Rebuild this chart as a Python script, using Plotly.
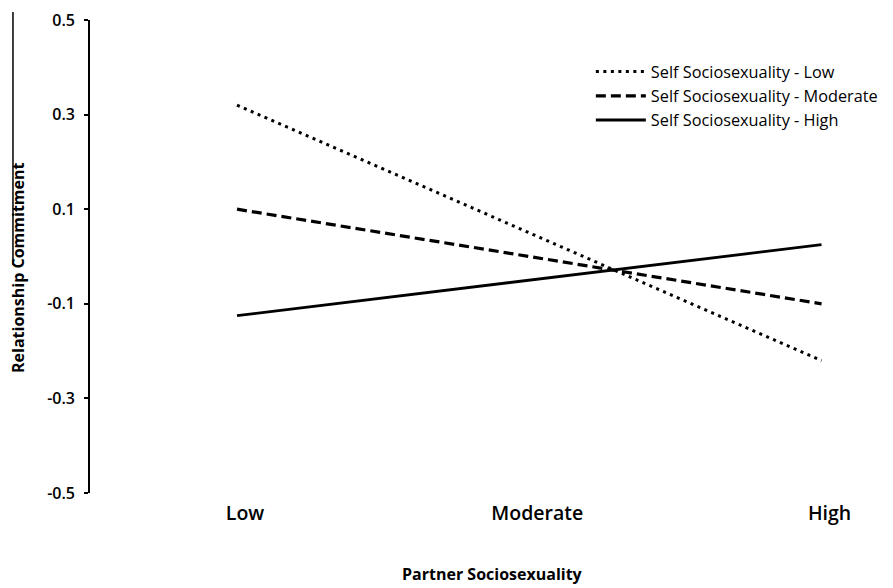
import plotly.graph_objects as go

categories = ["Low", "Moderate", "High"]
x_points = ["Low", "High"]
series_names = ["Self Sociosexuality - Low", "Self Sociosexuality - Moderate", "Self Sociosexuality - High"]
low_values = [0.32, -0.22]
moderate_values = [0.10, -0.10]
high_values = [-0.125, 0.025]
y_ticks = [0.5, 0.3, 0.1, -0.1, -0.3, -0.5]
y_ticklabels = ["0.5", "0.3", "0.1", "-0.1", "-0.3", "-0.5"]

FONT = "Open Sans"

fig = go.Figure()
styles = [
    dict(dash="3px,4.5px", width=3),
    dict(dash="10px,5px", width=3.2),
    dict(dash="solid", width=2.8),
]
for name, vals, st in zip(series_names, [low_values, moderate_values, high_values], styles):
    fig.add_trace(go.Scatter(
        x=x_points, y=vals, mode="lines", name=name,
        line=dict(color="black", width=st["width"], dash=st["dash"]),
    ))

# page body has an 8px default margin, so the figure is 8px smaller
fig.update_layout(
    width=885, height=580,
    margin=dict(l=82, r=13, t=12, b=95, autoexpand=False),
    paper_bgcolor="white", plot_bgcolor="white",
    showlegend=True,
    legend=dict(
        x=0.634, y=0.927, xanchor="left", yanchor="top",
        font=dict(family=FONT, size=16.3, color="black"),
        itemwidth=50, tracegroupgap=0, bgcolor="rgba(0,0,0,0)",
    ),
    font=dict(family=FONT, color="black"),
)
fig.update_xaxes(
    type="category", categoryorder="array", categoryarray=categories,
    range=[-0.503, 2.2], automargin=False,
    showline=False, showgrid=False, zeroline=False, ticks="",
    tickfont=dict(family=FONT, size=19.5, color="black", weight=600),
    ticklabelstandoff=6, ticklabelshift=8,
)
fig.update_yaxes(
    range=[-0.5, 0.5], tickvals=y_ticks, ticktext=y_ticklabels, automargin=False,
    showline=True, linecolor="black", linewidth=1.6,
    ticks="outside", ticklen=4, tickwidth=1.6, tickcolor="black",
    showgrid=False, zeroline=False,
    tickfont=dict(family=FONT, size=16, color="black", weight=600),
    ticklabelstandoff=6,
)
fig.add_annotation(
    text="Relationship Commitment", textangle=-90, showarrow=False,
    xref="paper", yref="paper", x=-0.091, y=0.476, xanchor="center", yanchor="middle",
    font=dict(family=FONT, size=16, color="black", weight="bold"),
)
fig.add_annotation(
    text="Partner Sociosexuality", showarrow=False,
    xref="paper", yref="paper", x=0.51, y=-0.171, xanchor="center", yanchor="middle",
    font=dict(family=FONT, size=16, color="black", weight="bold"),
)
fig.add_shape(type="line", xref="paper", yref="paper", x0=-0.0975, x1=-0.0975, y0=1.017, y1=0.482,
              line=dict(color="black", width=1.5))

fig.write_html("out.html")
